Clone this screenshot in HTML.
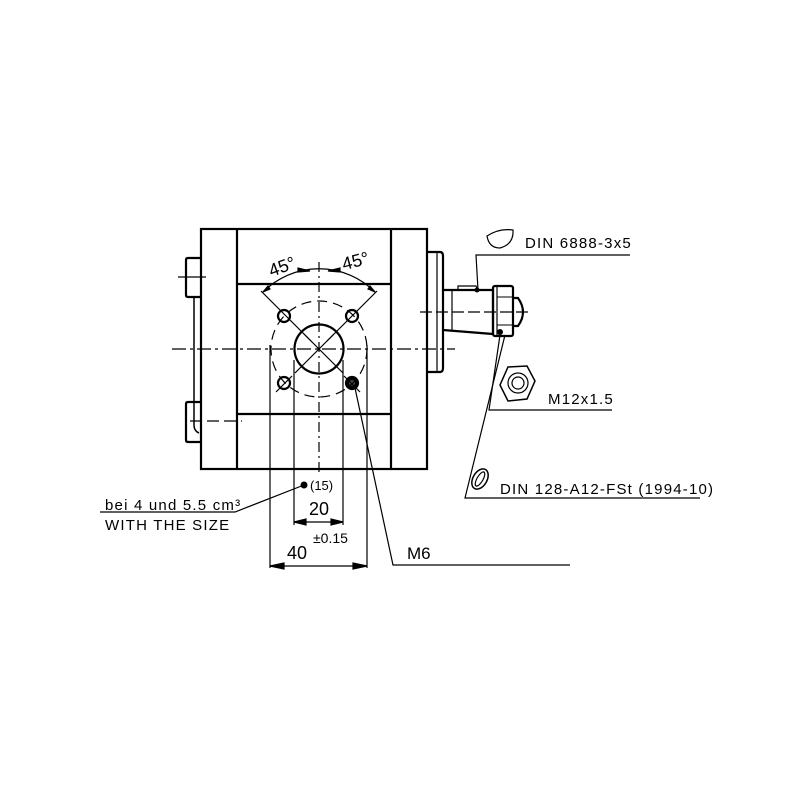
<!DOCTYPE html>
<html><head><style>body{margin:0;background:#fff}svg{display:block}</style></head><body>
<svg width="800" height="800" viewBox="0 0 800 800" xmlns="http://www.w3.org/2000/svg" font-family="'Liberation Sans Narrow','Liberation Sans',sans-serif">
<rect width="800" height="800" fill="#fff"/>
<g fill="none" stroke="#000" stroke-width="2.2">
<rect x="201" y="229" width="226" height="240"/>
<line x1="237" y1="229" x2="237" y2="469"/>
<line x1="391" y1="229" x2="391" y2="469"/>
<line x1="237" y1="284" x2="391" y2="284"/>
<line x1="237" y1="414" x2="391" y2="414"/>
<path d="M201 258 H188 Q186 258 186 260 V295 Q186 297 188 297 H201"/>
<path d="M201 402 H188 Q186 402 186 404 V440 Q186 442 188 442 H201"/>
<path d="M194 297 V425 Q194 431 199 433" stroke-width="1.5"/>
<path d="M427 252 H440 Q443 252 443 256 V368 Q443 372 440 372 H427"/>
<line x1="437" y1="252" x2="437" y2="372" stroke-width="1.2"/>
<path d="M443 290 L493 290 V334 L443 330"/>
<line x1="452" y1="290" x2="452" y2="331" stroke-width="1.2"/>
<path d="M458 290 L458 286 L476 286 L478 290" stroke-width="1.2"/>
<rect x="493" y="286" width="20" height="50" rx="2"/>
<line x1="497" y1="286" x2="497" y2="336" stroke-width="1.2"/>
<line x1="497" y1="297" x2="513" y2="297" stroke-width="1"/>
<line x1="497" y1="325" x2="513" y2="325" stroke-width="1"/>
<path d="M513 298 H518 Q523 305 523 312 Q523 319 518 326 H513"/>
<circle cx="319" cy="349" r="24.5"/>
<circle cx="284" cy="316" r="6"/><circle cx="352" cy="316" r="6"/>
<circle cx="284" cy="383" r="6"/>
<circle cx="352" cy="383" r="6" fill="#000"/><circle cx="352" cy="383" r="3" fill="#444" stroke="none"/>
</g>
<g fill="none" stroke="#000" stroke-width="1.2">
<line x1="270" y1="345" x2="270" y2="568"/>
<line x1="367" y1="345" x2="367" y2="568"/>
<line x1="294" y1="360" x2="294" y2="525"/>
<line x1="343" y1="360" x2="343" y2="525"/>
<line x1="261" y1="291" x2="343" y2="373"/>
<line x1="377" y1="291" x2="295" y2="373"/>
<line x1="276" y1="392" x2="292" y2="376"/><line x1="344" y1="376" x2="360" y2="392"/>
<path d="M263 292 A79 79 0 0 1 375 292"/>
<path d="M310 271 L298 272 L298 268 Z M328 271 L340 272 L340 268 Z" fill="#000"/>
<path d="M268 286 L263 292 L270 289 Z M370 286 L375 292 L368 289 Z" fill="#000"/>
<line x1="319" y1="262" x2="319" y2="472" stroke-dasharray="10,4,2,4"/>
<line x1="172" y1="349" x2="455" y2="349" stroke-dasharray="14,4,3,4"/>
<line x1="420" y1="312" x2="528" y2="312" stroke-dasharray="12,4"/>
<line x1="178" y1="277" x2="206" y2="277"/>
<line x1="190" y1="421" x2="242" y2="421" stroke-dasharray="12,5"/>
<circle cx="319" cy="349" r="48" stroke-dasharray="10,6"/>
<line x1="304" y1="334" x2="311" y2="341"/><line x1="334" y1="334" x2="327" y2="341"/>
<polyline points="478,290 476,255 630,255"/>
<polyline points="500,335 489,410 612,410"/>
<polyline points="505,335 465,498 700,498"/>
<polyline points="100,512 235,512 304,485"/>
<polyline points="355,388 393,565 570,565"/>
<line x1="294" y1="522" x2="343" y2="522"/>
<line x1="270" y1="566" x2="367" y2="566"/>
<path d="M294 522 l12 -3 v6 Z M343 522 l-12 -3 v6 Z M270 566 l14 -3 v6 Z M367 566 l-14 -3 v6 Z" fill="#000"/>
<path d="M487 236 Q499 228 513 230 Q514 244 500 248 Q489 248 487 236 Z"/>
<polygon points="508,367 527,366 535,381 527,399 508,401 500,385" stroke-width="1.5"/>
<circle cx="518" cy="383" r="10"/><circle cx="518" cy="383" r="6"/>
<ellipse cx="480" cy="479" rx="7" ry="11" transform="rotate(30 480 479)" stroke-width="1.5"/>
<ellipse cx="480" cy="479" rx="3" ry="8" transform="rotate(30 480 479)"/>
</g>
<circle cx="304" cy="485" r="3.5" fill="#000"/>
<circle cx="500" cy="332" r="3" fill="#000"/>
<circle cx="477" cy="290" r="2.5" fill="#000"/>
<g fill="#000" font-size="15">
<text x="525" y="248" letter-spacing="1.2">DIN 6888-3x5</text>
<text x="548" y="404" letter-spacing="1.2">M12x1.5</text>
<text x="500" y="494" letter-spacing="1.2">DIN 128-A12-FSt (1994-10)</text>
<text x="105" y="510" letter-spacing="1.2">bei 4 und 5.5 cm³</text>
<text x="105" y="530" letter-spacing="1.2">WITH THE SIZE</text>
<text x="310" y="490" font-size="13">(15)</text>
<text x="309" y="515" font-size="18">20</text>
<text x="313" y="543" font-size="14">±0.15</text>
<text x="287" y="559" font-size="18">40</text>
<text x="407" y="559" font-size="17">M6</text>
<text x="268" y="274" font-size="18" transform="rotate(-20 278 266)">45°</text>
<text x="342" y="268" font-size="18" transform="rotate(-15 352 262)">45°</text>
</g>
</svg>
</body></html>
